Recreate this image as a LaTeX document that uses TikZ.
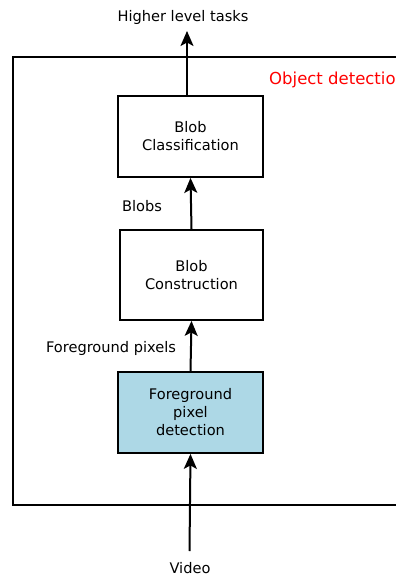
\documentclass[tikz,border=0pt]{standalone}
\usepackage{fontspec}
\setmainfont{DejaVu Sans}
\usetikzlibrary{arrows.meta}
\definecolor{fgblue}{RGB}{173,216,230}
\begin{document}
\begin{tikzpicture}[x=1pt, y=-1pt,
        font=\fontsize{14.6pt}{18pt}\selectfont,
        block/.style={draw=black, line width=1.8pt, align=center, inner sep=0pt},
        flow/.style={line width=2pt, -{Stealth[length=15pt, width=13pt, inset=3.5pt]}}]
            \useasboundingbox (0,0) rectangle (396,578);
            \clip (0,0) rectangle (396,578);

            \draw[black, line width=1.8pt] (13,57) rectangle (420,505);
            \node[red, anchor=west, inner sep=0pt, font=\fontsize{16.5pt}{20pt}\selectfont] (objdet) at (269,80) {Object detection};

            \node[block, minimum width=145pt, minimum height=81pt] (classif) at (190.5,136.5) {Blob\\Classification};
            \node[block, minimum width=143pt, minimum height=90pt] (construct) at (191.5,275) {Blob\\Construction};
            \node[block, fill=fgblue, minimum width=145pt, minimum height=81pt] (fgdetect) at (190.5,412.5) {Foreground\\pixel\\detection};

            \node (higher) at (183,17) {Higher level tasks};
            \node (blobs) at (142,206) {Blobs};
            \node (fgpixels) at (111,348) {Foreground pixels};
            \node (video) at (190,568) {Video};

            \coordinate (videoout) at (189.5,551);
            \coordinate (tasksin) at (187,31);

            \draw[flow] (videoout) -- (fgdetect.south);
            \draw[flow] (fgdetect.north) -- (construct.south);
            \draw[flow] (construct.north) -- (classif.south);
            \draw[flow] (classif.north -| tasksin) -- (tasksin);
        \end{tikzpicture}
\end{document}
